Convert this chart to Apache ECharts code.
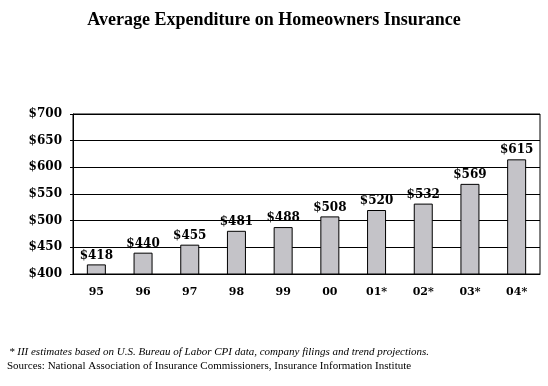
<!DOCTYPE html>
<html>
<head>
<meta charset="utf-8">
<script src="https://cdn.jsdelivr.net/npm/echarts@6/dist/echarts.min.js"></script>
<style>html,body{margin:0;padding:0;background:#fff}#c{width:548px;height:386px}</style>
</head>
<body>
<div id="c"></div>
<script>
var categories = ['95','96','97','98','99','00','01*','02*','03*','04*'];
var values = [418, 440, 455, 481, 488, 508, 520, 532, 569, 615];
var yTicks = [400, 450, 500, 550, 600, 650, 700];
var titleText = 'Average Expenditure on Homeowners Insurance';
var footnote = '* III estimates based on U.S. Bureau of Labor CPI data, company filings and trend projections.';
var sources = 'Sources: National Association of Insurance Commissioners, Insurance Information Institute';

var chart = echarts.init(document.getElementById('c'), null, {renderer: 'canvas'});
var serif = '"Liberation Serif", "Times New Roman", serif';
var wideSerif = '"DejaVu Serif", serif';
chart.setOption({
  animation: false,
  backgroundColor: '#fff',
  title: [
    {text: titleText, left: 'center', top: 6, textStyle: {fontFamily: serif, fontWeight: 'bold', fontSize: 18, color: '#000'}},
    {text: footnote, left: 4, top: 342, textStyle: {fontFamily: serif, fontStyle: 'italic', fontWeight: 'normal', fontSize: 11, color: '#000'}},
    {text: sources, left: 2, top: 356, textStyle: {fontFamily: serif, fontWeight: 'normal', fontSize: 11, color: '#000'}}
  ],
  grid: {left: 73, right: 8, top: 114, bottom: 112, show: true, borderColor: '#000', borderWidth: 1, backgroundColor: 'transparent'},
  xAxis: {
    type: 'category', data: categories,
    axisLine: {lineStyle: {color: '#000', width: 1}},
    axisTick: {show: false},
    axisLabel: {fontFamily: wideSerif, fontWeight: 'bold', fontSize: 11, color: '#000', margin: 13}
  },
  yAxis: {
    type: 'value', min: yTicks[0], max: yTicks[yTicks.length-1], interval: 50,
    axisLine: {show: true, lineStyle: {color: '#000', width: 1}},
    axisTick: {show: true, length: 3, lineStyle: {color: '#000'}},
    splitLine: {lineStyle: {color: '#000', width: 1}},
    axisLabel: {fontFamily: wideSerif, fontWeight: 'bold', fontSize: 12, color: '#000', margin: 11, formatter: function(v){return '$' + v;}}
  },
  series: [{
    type: 'bar', data: values, barWidth: 19,
    itemStyle: {color: '#c4c3c8', borderColor: '#000', borderWidth: 1},
    label: {show: true, position: 'top', distance: 3, fontFamily: wideSerif, fontWeight: 'bold', fontSize: 12, color: '#000', formatter: function(p){return '$' + p.value;}}
  }]
});
</script>
</body>
</html>
